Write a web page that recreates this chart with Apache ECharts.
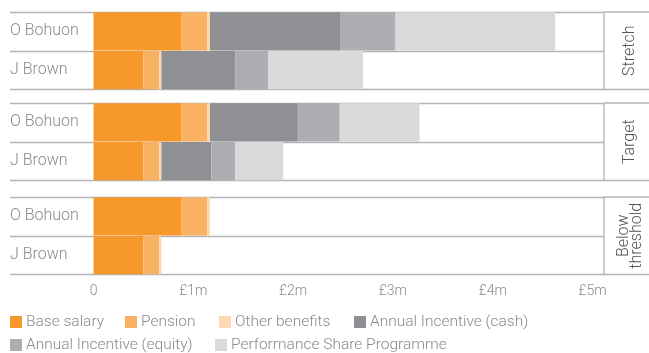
<!DOCTYPE html>
<html>
<head>
<meta charset="utf-8">
<script src="https://cdn.jsdelivr.net/npm/echarts@6/dist/echarts.min.js"></script>
<style>html,body{margin:0;padding:0;background:#fff}#c{width:649px;height:353px}</style>
</head>
<body>
<div id="c"></div>
<script>
// ---- data (£m) ----
const people = ['O Bohuon', 'J Brown'];
const scenarios = ['Stretch', 'Target', 'Below\nthreshold'];
const seriesNames = ['Base salary', 'Pension', 'Other benefits', 'Annual Incentive (cash)', 'Annual Incentive (equity)', 'Performance Share Programme'];
// each array: [scenario][person]
const baseSalary   = [[0.877, 0.50], [0.877, 0.50], [0.877, 0.50]];
const pension      = [[0.26, 0.16], [0.26, 0.16], [0.26, 0.16]];
const otherBen     = [[0.03, 0.02], [0.03, 0.02], [0.03, 0.02]];
const aiCash       = [[1.31, 0.74], [0.88, 0.50], [0, 0]];
const aiEquity     = [[0.55, 0.33], [0.42, 0.24], [0, 0]];
const psp          = [[1.60, 0.95], [0.80, 0.48], [0, 0]];
const tickValues = [0, 1, 2, 3, 4, 5];
const tickLabels = ['0', '£1m', '£2m', '£3m', '£4m', '£5m'];

const colors = ['#F6992A', '#F9B264', '#FDD9B2', '#8F9094', '#AEAEB2', '#DADADC'];
const valueSets = [baseSalary, pension, otherBen, aiCash, aiEquity, psp];
const FONT = 'Roboto';
const TXT = '#8a8a8a';

const gridTops = [12, 103, 197];
const gridH = 77.5;
const gridLeft = 10, gridRight = 45;
const xMin = -0.837, xMax = 5.115;

const grids = [], xAxes = [], yAxes = [], series = [], graphics = [];
gridTops.forEach((t, gi) => {
  grids.push({ left: gridLeft, right: gridRight, top: t, height: gridH });
  const isLast = gi === gridTops.length - 1;
  xAxes.push({
    type: 'value', gridIndex: gi, min: xMin, max: xMax, show: isLast,
    splitLine: { show: false }, axisLine: { show: false }, axisTick: { show: false },
    axisLabel: {
      show: isLast, customValues: tickValues, margin: 10,
      formatter: v => tickLabels[tickValues.indexOf(v)] || '',
      color: TXT, fontFamily: FONT, fontSize: 14, fontWeight: 300
    }
  });
  yAxes.push({
    type: 'category', gridIndex: gi, data: people, inverse: true,
    axisLine: { show: false, onZero: false }, axisTick: { show: false },
    splitLine: { show: true, lineStyle: { color: '#b4b4b4', width: 1.3 } },
    axisLabel: { inside: true, margin: 0, color: TXT, fontFamily: FONT, fontSize: 16, fontWeight: 300 }
  });
  seriesNames.forEach((n, si) => {
    series.push({
      name: n, type: 'bar', stack: 'g' + gi, xAxisIndex: gi, yAxisIndex: gi,
      barWidth: '99%', itemStyle: { color: colors[si] },
      data: valueSets[si][gi], silent: true
    });
  });
  // right-hand scenario panel
  const top = t, bot = t + gridH, px = 649 - gridRight;
  graphics.push({ type: 'line', shape: { x1: px, y1: top, x2: 649, y2: top }, style: { stroke: '#b4b4b4', lineWidth: 1.3 } });
  graphics.push({ type: 'line', shape: { x1: px, y1: bot, x2: 649, y2: bot }, style: { stroke: '#b4b4b4', lineWidth: 1.3 } });
  graphics.push({ type: 'line', shape: { x1: px, y1: top, x2: px, y2: bot }, style: { stroke: '#9a9a9a', lineWidth: 1 } });
  graphics.push({
    type: 'text', x: 630, y: (top + bot) / 2, rotation: Math.PI / 2,
    style: { text: scenarios[gi], fill: '#555', font: '300 16px ' + FONT, textAlign: 'center', textVerticalAlign: 'middle', lineHeight: 13 }
  });
});

const legendPos = [
  { left: 10, top: 314 }, { left: 125, top: 314 }, { left: 219, top: 314 }, { left: 354, top: 314 },
  { left: 10, top: 337 }, { left: 215, top: 337 }
];
const legends = seriesNames.map((n, i) => ({
  data: [n], left: legendPos[i].left, top: legendPos[i].top, padding: 0,
  itemWidth: 12, itemHeight: 12, icon: 'rect', itemGap: 0, selectedMode: false,
  textStyle: { color: TXT, fontFamily: FONT, fontSize: 15.5, fontWeight: 300, padding: [0, 0, 0, -1] }
}));

const chart = echarts.init(document.getElementById('c'), null, { renderer: 'canvas' });
chart.setOption({
  animation: false,
  grid: grids, xAxis: xAxes, yAxis: yAxes, series: series,
  legend: legends, graphic: graphics
});
</script>
</body>
</html>
